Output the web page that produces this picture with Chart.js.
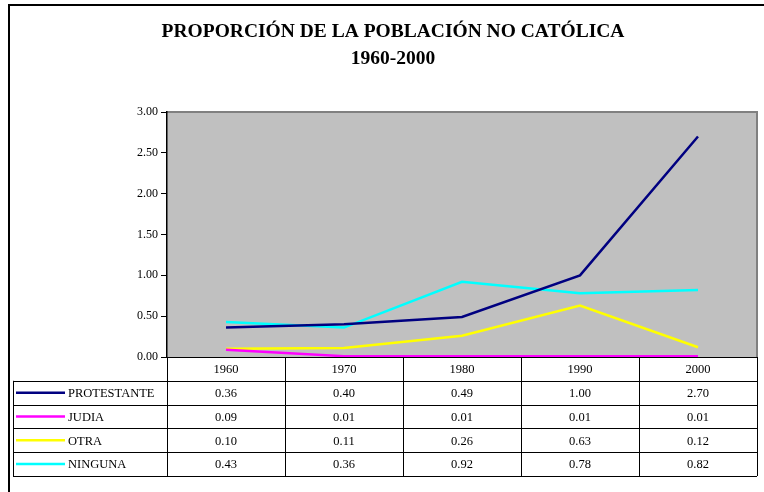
<!DOCTYPE html>
<html>
<head>
<meta charset="utf-8">
<script src="https://cdn.jsdelivr.net/npm/chart.js@4/dist/chart.umd.min.js"></script>
<style>
html,body{margin:0;padding:0;background:#fff;}
#wrap{width:764px;height:492px;position:relative;}
</style>
</head>
<body>
<div id="wrap"><canvas id="c" width="764" height="492"></canvas></div>
<script>
const categories = ['1960', '1970', '1980', '1990', '2000'];
const protestante = [0.36, 0.40, 0.49, 1.00, 2.70];
const judia = [0.09, 0.01, 0.01, 0.01, 0.01];
const otra = [0.10, 0.11, 0.26, 0.63, 0.12];
const ninguna = [0.43, 0.36, 0.92, 0.78, 0.82];
const seriesNames = ['PROTESTANTE', 'JUDIA', 'OTRA', 'NINGUNA'];
const seriesColors = ['#000080', '#FF00FF', '#FFFF00', '#00FFFF'];
const yTicks = [0, 0.5, 1, 1.5, 2, 2.5, 3];

const FONT = "'Liberation Serif', 'Times New Roman', serif";

const framePlugin = {
  id: 'frame',
  beforeDraw(chart) {
    const ctx = chart.ctx, a = chart.chartArea;
    ctx.save();
    ctx.fillStyle = '#C0C0C0';
    ctx.fillRect(a.left, a.top, a.right - a.left, a.bottom - a.top);
    ctx.strokeStyle = '#808080';
    ctx.lineWidth = 2;
    ctx.beginPath();
    ctx.moveTo(a.left, a.top);
    ctx.lineTo(a.right, a.top);
    ctx.lineTo(a.right, a.bottom);
    ctx.stroke();
    ctx.strokeStyle = '#000';
    ctx.lineWidth = 2;
    ctx.beginPath();
    ctx.moveTo(764, 5);
    ctx.lineTo(9, 5);
    ctx.lineTo(9, 492);
    ctx.stroke();
    ctx.restore();
  }
};

const tablePlugin = {
  id: 'dataTable',
  afterDraw(chart) {
    const ctx = chart.ctx, a = chart.chartArea;
    const xs = chart.scales.x;
    const n = categories.length;
    const colW = (a.right - a.left) / n;
    const top = a.bottom;
    const rowH = 23.8;
    const rows = chart.data.datasets.length + 1;
    const bottom = top + rowH * rows;
    const legLeft = 13;
    ctx.save();
    ctx.strokeStyle = '#000';
    ctx.lineWidth = 1;
    ctx.beginPath();
    ctx.moveTo(a.left, Math.round(top) + 0.5);
    ctx.lineTo(a.right, Math.round(top) + 0.5);
    for (let r = 1; r <= rows; r++) {
      const y = Math.round(top + r * rowH) + 0.5;
      ctx.moveTo(legLeft, y);
      ctx.lineTo(a.right, y);
    }
    for (let i = 0; i <= n; i++) {
      const x = Math.round(xs.getPixelForValue(Math.min(i, n - 1)) + (i === n ? colW / 2 : -colW / 2)) + 0.5;
      ctx.moveTo(x, top);
      ctx.lineTo(x, bottom);
    }
    ctx.moveTo(legLeft + 0.5, top + rowH);
    ctx.lineTo(legLeft + 0.5, bottom);
    ctx.stroke();

    ctx.fillStyle = '#000';
    ctx.font = '12.5px ' + FONT;
    ctx.textBaseline = 'middle';
    ctx.textAlign = 'center';
    categories.forEach((c, i) => {
      ctx.fillText(c, xs.getPixelForValue(i), top + rowH / 2 + 1);
    });
    chart.data.datasets.forEach((ds, r) => {
      const yc = top + (r + 1.5) * rowH + 1;
      ctx.textAlign = 'center';
      ctx.fillStyle = '#000';
      ds.data.forEach((v, i) => {
        ctx.fillText(v.toFixed(2), xs.getPixelForValue(i), yc);
      });
      ctx.strokeStyle = ds.borderColor;
      ctx.lineWidth = 2.5;
      ctx.beginPath();
      ctx.moveTo(16, yc - 1);
      ctx.lineTo(65, yc - 1);
      ctx.stroke();
      ctx.textAlign = 'left';
      ctx.fillText(ds.label, 68, yc);
    });
    ctx.restore();
  }
};

new Chart(document.getElementById('c'), {
  type: 'line',
  data: {
    labels: categories,
    datasets: [protestante, judia, otra, ninguna].map((d, i) => ({
      label: seriesNames[i],
      data: d,
      borderColor: seriesColors[i],
      backgroundColor: seriesColors[i],
      borderWidth: 2.5,
      pointRadius: 0,
      tension: 0,
      fill: false
    }))
  },
  options: {
    responsive: false,
    animation: false,
    layout: { padding: { left: 29, right: 7, top: 0, bottom: 135 } },
    plugins: {
      legend: { display: false },
      tooltip: { enabled: false },
      title: {
        display: true,
        text: ['PROPORCIÓN DE LA POBLACIÓN NO CATÓLICA', '1960-2000'],
        color: '#000',
        font: { family: FONT, size: 19.5, weight: 'bold', lineHeight: 1.385 },
        padding: { top: 18, bottom: 40 }
      }
    },
    scales: {
      x: {
        display: false,
        offset: true
      },
      y: {
        min: 0,
        max: 3,
        afterBuildTicks(scale) { scale.ticks = yTicks.map(v => ({ value: v })); },
        afterFit(scale) { scale.width = 138; },
        ticks: {
          color: '#000',
          font: { family: FONT, size: 12 },
          padding: 3,
          callback: v => Number(v).toFixed(2)
        },
        grid: {
          drawOnChartArea: false,
          drawTicks: true,
          tickLength: 6,
          color: '#000'
        },
        border: { color: '#000', width: 1.5 }
      }
    }
  },
  plugins: [framePlugin, tablePlugin]
});
</script>
</body>
</html>
